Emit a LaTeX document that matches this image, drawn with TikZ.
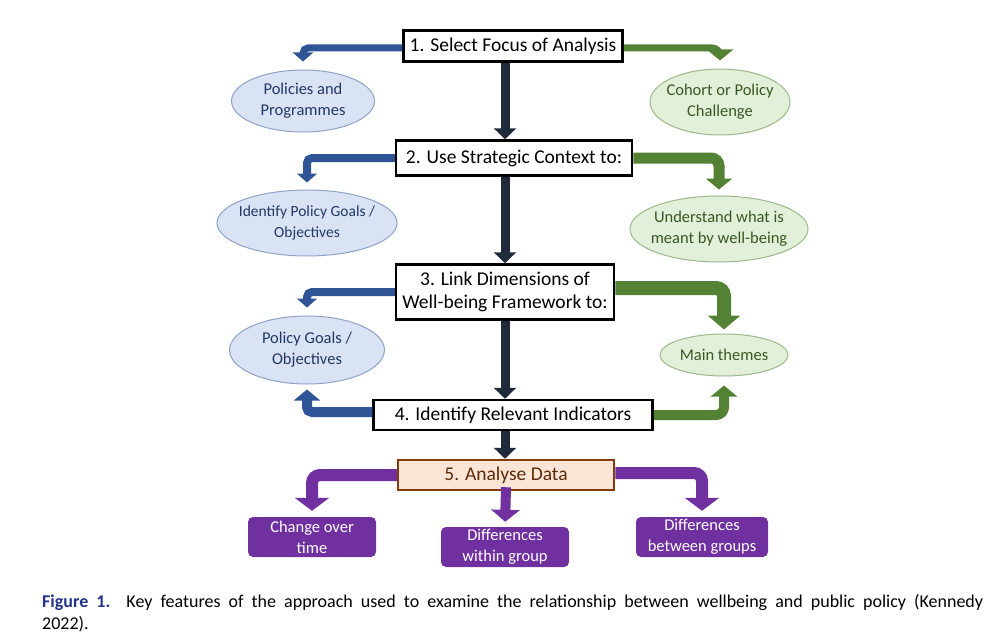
\documentclass[tikz,border=0pt]{standalone}
\usepackage{fontspec}
\setmainfont{Carlito}
\usetikzlibrary{positioning}
\usetikzlibrary{shapes.geometric}
\usetikzlibrary{arrows.meta}
\definecolor{scuro}{HTML}{1F2A3A}
\definecolor{blu}{HTML}{2F5597}
\definecolor{verde}{HTML}{548235}
\definecolor{viola}{HTML}{7030A0}
\definecolor{fondoB}{HTML}{DAE3F3}
\definecolor{bordoB}{HTML}{8FA3C8}
\definecolor{testoB}{HTML}{203864}
\definecolor{fondoV}{HTML}{E2F0D9}
\definecolor{bordoV}{HTML}{9DB88A}
\definecolor{testoV}{HTML}{385723}
\definecolor{pesca}{HTML}{FBE5D6}
\definecolor{marrone}{HTML}{843C0C}
\definecolor{didascalia}{HTML}{23328A}
\begin{document}
\begin{tikzpicture}[x=1pt,y=-1pt,align=center,
passo/.style={draw=black,line width=2.5pt,fill=white,inner sep=0pt,font=\fontsize{19.5}{23}\selectfont},
ellisseB/.style={ellipse,draw=bordoB,line width=1pt,fill=fondoB,text=testoB,inner xsep=-14pt,inner ysep=0pt,font=\fontsize{16.5}{21}\selectfont},
ellisseV/.style={ellipse,draw=bordoV,line width=1pt,fill=fondoV,text=testoV,inner xsep=-14pt,inner ysep=0pt,font=\fontsize{16.5}{21}\selectfont},
scatola/.style={rounded corners=5pt,fill=viola,text=white,inner sep=0pt,minimum width=128pt,minimum height=40pt,font=\fontsize{16.5}{21}\selectfont},
freccia/.style={draw=scuro,line width=9pt,-{Triangle[width=22pt,length=11pt]}},
frecciaB/.style={draw=blu,rounded corners=5pt,-{Triangle[width=20pt,length=9pt]}},
frecciaV/.style={draw=verde,rounded corners=8pt,-{Triangle[width=26pt,length=11pt]}},
frecciaP/.style={draw=viola,line width=12pt,rounded corners=8pt,-{Triangle[width=34pt,length=13pt]}}
]
\useasboundingbox (0,0) rectangle (1007,642);
%-- passi
\node[passo,minimum width=219pt,minimum height=31pt](p1) at (513,46){1. Select Focus of Analysis};
\node[passo,minimum width=236pt,minimum height=35pt](p2) at (514,158){2. Use Strategic Context to:};
\node[passo,minimum width=218pt,minimum height=55pt](p3) at (505,292){3. Link Dimensions of\\Well-being Framework to:};
\node[passo,minimum width=279pt,minimum height=30pt](p4) at (513,415){4. Identify Relevant Indicators};
\node[passo,draw=marrone,fill=pesca,text=marrone!70!black,minimum width=216pt,minimum height=30pt](p5) at (506,475){5. Analyse Data};
%-- ellissi
\node[ellisseB,minimum width=143pt,minimum height=62pt](e1) at (303,101){Policies and\\Programmes};
\node[ellisseB,minimum width=180pt,minimum height=66pt,font=\fontsize{15.5}{21}\selectfont](e2) at (307,223){Identify Policy Goals /\\Objectives};
\node[ellisseB,minimum width=155pt,minimum height=68pt](e3) at (307,350){Policy Goals /\\Objectives};
\node[ellisseV,minimum width=140pt,minimum height=66pt](v1) at (720,102){Cohort or Policy\\Challenge};
\node[ellisseV,minimum width=178pt,minimum height=66pt](v2) at (719,229){Understand what is\\meant by well-being};
\node[ellisseV,minimum width=128pt,minimum height=42pt](v3) at (724,355){Main themes};
%-- risultati
\node[scatola](c1) at (312,537){Change over\\time};
\node[scatola](c2) at (505,547){Differences\\within group};
\node[scatola,minimum width=132pt](c3) at (702,537){Differences\\between groups};
%-- frecce centrali
\draw[freccia] (p1.south -| p3) -- (p2.north -| p3);
\draw[freccia] (p2.south -| p3) -- (p3.north);
\draw[freccia] (p3.south) -- (p4.north -| p3);
\draw[freccia] (p4.south -| p3) -- (p5.north -| p3);
%-- frecce laterali
\draw[frecciaB,line width=7pt,shorten >=8pt] ([yshift=-2pt]p1.west) -| (e1.north);
\draw[frecciaV,line width=7pt,shorten >=8pt] ([yshift=-2pt]p1.east) -| (v1.north);
\draw[frecciaB,line width=8pt,shorten >=7pt] (p2.west) -| (e2.north);
\draw[frecciaV,line width=11pt,shorten >=6pt] (p2.east) -| (v2.north);
\draw[frecciaB,line width=8pt,shorten >=8pt] (p3.west) -| (e3.north);
\draw[frecciaV,line width=14pt,shorten >=4pt,-{Triangle[width=32pt,length=14pt]}] ([yshift=4pt]p3.east) -| (v3.north);
\draw[frecciaB,line width=10pt,shorten >=5pt,-{Triangle[width=26pt,length=11pt]}] ([yshift=3pt]p4.west) -| (e3.south);
\draw[frecciaV,line width=10pt,shorten >=9pt,-{Triangle[width=26pt,length=11pt]}] (p4.east) -| (v3.south);
%-- dati
\draw[frecciaP,shorten >=6pt] (p5.west) -| (c1.north);
\draw[frecciaP,line width=10pt,shorten >=5pt,-{Triangle[width=28pt,length=12pt]}] ([yshift=4pt]p5.south) -- (c2.north);
\draw[frecciaP,shorten >=6pt] ([yshift=2pt]p5.east) -| (c3.north);
%-- didascalia
\node[anchor=north west,text width=941pt,align=justify,inner sep=0pt,font=\fontsize{18}{22}\selectfont](cap) at (42,594){\textcolor{didascalia}{\textbf{Figure 1.}}\ \ Key features of the approach used to examine the relationship between wellbeing and public policy (Kennedy\linebreak 2022).};
\end{tikzpicture}
\end{document}
